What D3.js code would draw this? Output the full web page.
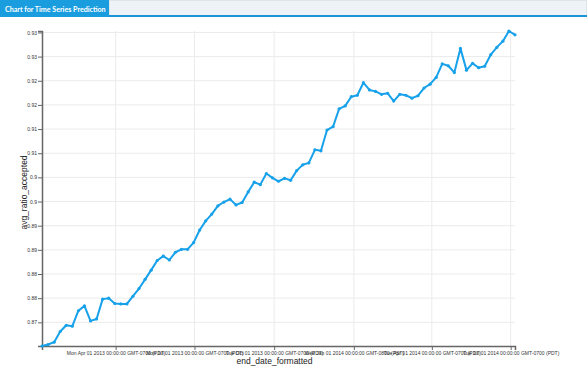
<!DOCTYPE html>
<html>
<head>
<meta charset="utf-8">
<script src="https://cdn.jsdelivr.net/npm/d3@7"></script>
<style>
  body { margin: 0; background: #fff; overflow: hidden; }
  svg { display: block; }
</style>
</head>
<body>
<div id="chart"></div>
<script>
const title = "Chart for Time Series Prediction";
const xLabel = "end_date_formatted";
const yLabel = "avg_ratio_accepted";

// weekly end dates
const endDates = [
  "2013-01-06","2013-01-13","2013-01-20","2013-01-27","2013-02-03","2013-02-10","2013-02-17","2013-02-24",
  "2013-03-03","2013-03-10","2013-03-17","2013-03-24","2013-03-31","2013-04-07","2013-04-14","2013-04-21",
  "2013-04-28","2013-05-05","2013-05-12","2013-05-19","2013-05-26","2013-06-02","2013-06-09","2013-06-16",
  "2013-06-23","2013-06-30","2013-07-07","2013-07-14","2013-07-21","2013-07-28","2013-08-04","2013-08-11",
  "2013-08-18","2013-08-25","2013-09-01","2013-09-08","2013-09-15","2013-09-22","2013-09-29","2013-10-06",
  "2013-10-13","2013-10-20","2013-10-27","2013-11-03","2013-11-10","2013-11-17","2013-11-24","2013-12-01",
  "2013-12-08","2013-12-15","2013-12-22","2013-12-29","2014-01-05","2014-01-12","2014-01-19","2014-01-26",
  "2014-02-02","2014-02-09","2014-02-16","2014-02-23","2014-03-02","2014-03-09","2014-03-16","2014-03-23",
  "2014-03-30","2014-04-06","2014-04-13","2014-04-20","2014-04-27","2014-05-04","2014-05-11","2014-05-18",
  "2014-05-25","2014-06-01","2014-06-08","2014-06-15","2014-06-22","2014-06-29","2014-07-06"
];

const avgRatio = [
  0.8701, 0.8704, 0.8709, 0.8731, 0.8744, 0.8742, 0.8774, 0.8784, 0.8753, 0.8757,
  0.8798, 0.8800, 0.8789, 0.8788, 0.8788, 0.8804, 0.8820, 0.8839, 0.8858, 0.8878,
  0.8887, 0.8879, 0.8895, 0.8901, 0.8901, 0.8915, 0.8941, 0.8960, 0.8974, 0.8991,
  0.8999, 0.9005, 0.8993, 0.8998, 0.9020, 0.9040, 0.9035, 0.9058, 0.9049, 0.9042,
  0.9048, 0.9044, 0.9064, 0.9076, 0.9080, 0.9107, 0.9105, 0.9148, 0.9155, 0.9192,
  0.9198, 0.9217, 0.9220, 0.9246, 0.9231, 0.9228, 0.9222, 0.9224, 0.9208, 0.9222,
  0.9220, 0.9214, 0.9219, 0.9235, 0.9243, 0.9257, 0.9285, 0.9281, 0.9267, 0.9317,
  0.9272, 0.9286, 0.9277, 0.9280, 0.9304, 0.9319, 0.9332, 0.9353, 0.9345
];

const W = 587, H = 374;
const margin = { top: 31, right: 72, bottom: 28, left: 42 };
const width = W - margin.left - margin.right,
      height = H - margin.top - margin.bottom;

const parse = d3.timeParse("%Y-%m-%d");
const data = endDates.map((d, i) => ({ date: parse(d), value: avgRatio[i] }));

const svg = d3.select("#chart").append("svg")
    .attr("width", W)
    .attr("height", H);

// header tab
svg.append("rect").attr("x", 109.5).attr("y", 0.5).attr("width", W - 110).attr("height", 15)
    .attr("fill", "#eef3f8").attr("stroke", "#dde4ea");
svg.append("rect").attr("x", 0).attr("y", 15).attr("width", W).attr("height", 2)
    .attr("fill", "#1b95d6");
svg.append("rect").attr("x", 0).attr("y", 0).attr("width", 109).attr("height", 17)
    .attr("fill", "#1a9ddf");
svg.append("text").attr("x", 5).attr("y", 11.5)
    .style("font-family", "Lato, 'Open Sans', sans-serif")
    .style("font-weight", "bold")
    .style("font-size", "7.1px")
    .style("fill", "#fff")
    .text(title);

const g = svg.append("g").attr("transform", `translate(${margin.left},${margin.top})`);

const x = d3.scaleTime()
    .domain(d3.extent(data, d => d.date))
    .range([0, width]);

const y = d3.scaleLinear()
    .domain(d3.extent(data, d => d.value))
    .range([height, 0]);

const xTicks = x.ticks(d3.timeMonth.every(3));
const yTicks = y.ticks(10);

// grid
g.append("g").selectAll("line").data(yTicks).enter().append("line")
    .attr("x1", 0).attr("x2", width)
    .attr("y1", d => y(d)).attr("y2", d => y(d))
    .attr("stroke", "#ebebeb").attr("stroke-width", 1);
g.append("g").selectAll("line").data(xTicks).enter().append("line")
    .attr("x1", d => x(d)).attr("x2", d => x(d))
    .attr("y1", 0).attr("y2", height)
    .attr("stroke", "#ebebeb").attr("stroke-width", 1);

const fmtDate = d3.timeFormat("%a %b %d %Y %H:%M:%S");
const tz = d => (d.getMonth() >= 2 && d.getMonth() <= 9) ? " GMT-0700 (PDT)" : " GMT-0800 (PST)";

const xAxis = g.append("g")
    .attr("transform", `translate(0,${height})`)
    .call(d3.axisBottom(x).tickValues(xTicks).tickSize(4).tickFormat(d => fmtDate(d) + tz(d)));

const yAxis = g.append("g")
    .call(d3.axisLeft(y).tickValues(yTicks).tickSize(4)
        .tickFormat(d => String(Math.floor(d * 100 + 1e-6) / 100)));

[xAxis, yAxis].forEach(a => {
    a.select(".domain").attr("stroke", "#666").attr("stroke-width", 1.5);
    a.selectAll(".tick line").attr("stroke", "#666");
    a.selectAll("text")
        .style("font-family", "'Liberation Sans', Arial, sans-serif")
        .style("font-size", "5px")
        .style("fill", "#333");
});
xAxis.selectAll("text").attr("y", 5);
yAxis.selectAll("text").attr("x", -5);

// line
const line = d3.line().x(d => x(d.date)).y(d => y(d.value));

g.append("path")
    .datum(data)
    .attr("fill", "none")
    .attr("stroke", "#17a1ea")
    .attr("stroke-width", 2)
    .attr("stroke-linejoin", "round")
    .attr("d", line);

g.selectAll(".dot").data(data).enter().append("circle")
    .attr("class", "dot")
    .attr("cx", d => x(d.date))
    .attr("cy", d => y(d.value))
    .attr("r", 1.6)
    .attr("fill", "#17a1ea");

// axis labels
svg.append("text")
    .attr("x", margin.left + width / 2 - 4)
    .attr("y", 364)
    .attr("text-anchor", "middle")
    .style("font-family", "'Liberation Sans', Arial, sans-serif")
    .style("font-size", "8.5px")
    .style("fill", "#222")
    .text(xLabel);

svg.append("text")
    .attr("transform", `translate(27,${margin.top + height / 2 + 4}) rotate(-90)`)
    .attr("text-anchor", "middle")
    .style("font-family", "'Liberation Sans', Arial, sans-serif")
    .style("font-size", "8.5px")
    .style("fill", "#222")
    .text(yLabel);
</script>
</body>
</html>
